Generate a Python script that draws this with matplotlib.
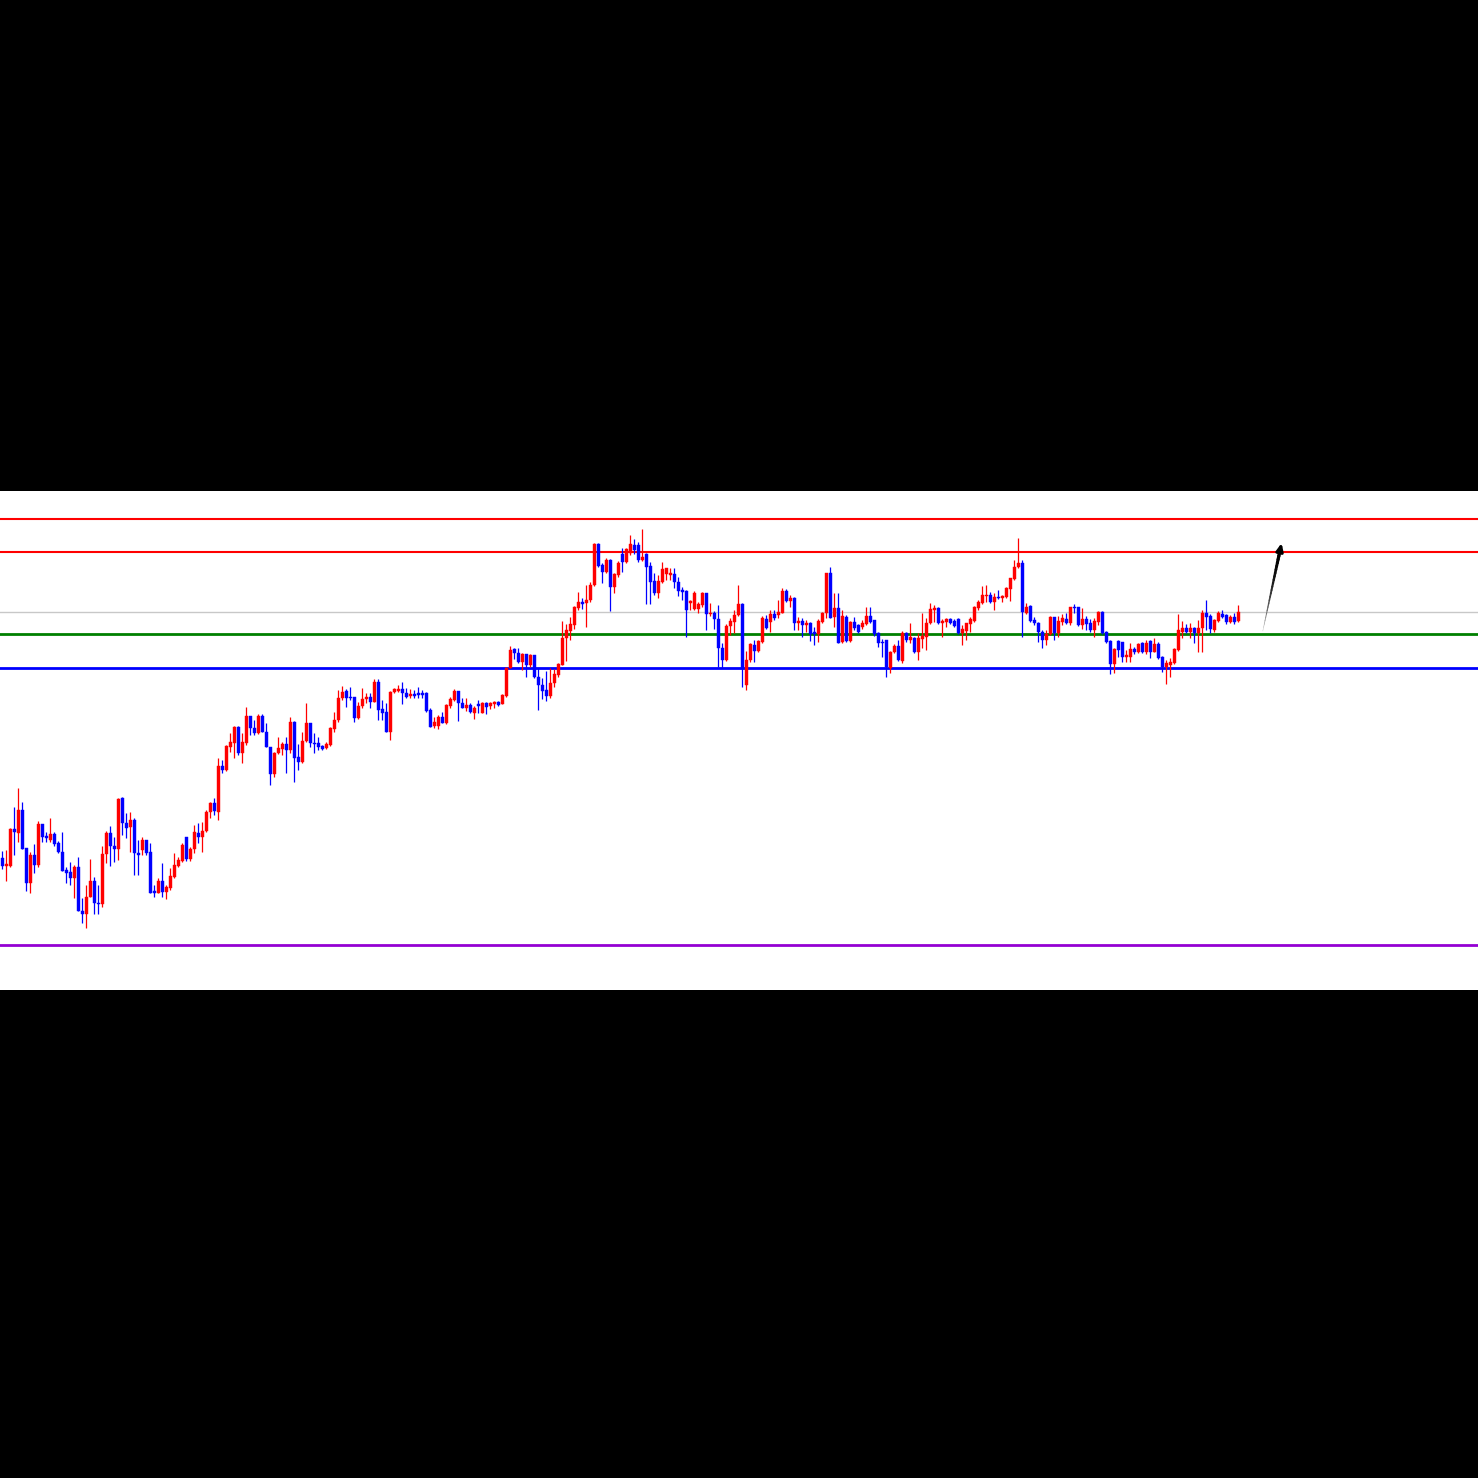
import matplotlib
matplotlib.use("Agg")
import matplotlib.pyplot as plt
from matplotlib.collections import LineCollection
import numpy as np

# OHLC values (price units)
ohlc = [
(132,139,121,124),(124,140,109,126),(124,162,123,161),(161,183,135,158),(157,202,148,180),
(180,188,141,141),(142,142,99,107),(107,138,97,135),(135,146,117,125),(125,169,123,166),
(166,166,148,153),(154,158,148,152),(150,172,148,156),(156,158,144,146),(147,149,137,138),
(138,158,119,119),(120,123,107,117),(118,128,105,112),(112,125,92,123),(123,133,79,79),
(79,92,67,76),(76,105,62,93),(93,131,93,109),(109,113,76,87),(87,105,76,86),
(86,144,83,136),(136,159,127,157),(157,164,124,144),(144,153,128,141),(141,192,130,191),
(192,193,155,167),(167,177,152,162),(163,178,138,170),(170,172,115,137),(137,150,115,135),
(140,153,135,150),(150,150,135,137),(138,147,97,97),(99,105,93,97),(97,112,97,109),
(109,127,93,98),(98,105,91,103),(102,122,100,114),(113,137,112,125),(124,133,123,130),
(129,147,128,145),(153,153,129,131),(131,143,129,141),(141,165,137,158),(157,167,147,153),
(153,168,138,159),(159,180,158,178),(178,188,172,187),(187,192,175,179),(178,232,170,224),
(224,230,217,220),(220,245,219,244),(243,257,238,248),(247,264,232,263),(263,264,235,237),
(237,257,227,248),(247,283,245,274),(274,274,255,262),(262,270,255,257),(257,276,256,274),
(274,276,258,258),(258,267,243,243),(243,243,205,216),(216,238,213,237),(237,253,236,242),
(241,248,235,246),(246,253,217,240),(240,273,237,268),(268,269,208,232),(233,246,220,228),
(228,258,227,249),(249,287,248,267),(267,267,243,247),(247,257,237,246),(247,253,240,243),
(244,245,240,241),(242,248,241,246),(245,263,244,262),(261,278,258,270),(270,300,268,292),
(292,304,290,298),(299,301,283,292),(293,303,290,292),(293,293,268,272),(272,288,271,284),
(284,302,282,291),(291,297,287,293),(293,297,282,288),(288,311,288,308),(308,311,270,280),
(281,290,270,277),(278,287,258,258),(258,299,250,298),(298,302,297,301),(299,305,298,301),
(301,308,286,297),(297,302,292,293),(294,301,292,296),(296,300,292,294),(297,303,292,295),
(297,300,292,295),(297,298,278,279),(280,282,263,263),(264,273,262,268),(264,275,261,273),
(273,278,267,267),(267,286,266,285),(284,293,282,291),(290,301,289,299),(299,299,269,287),
(287,292,282,282),(282,292,279,285),(285,287,277,278),(277,284,271,282),(286,290,277,284),
(277,288,277,287),(287,288,276,283),(284,288,281,287),(286,289,282,288),(288,289,284,285),
(286,296,286,295),(294,323,293,322),(322,344,322,340),(341,342,331,337),(337,342,327,328),
(328,337,320,336),(336,336,313,325),(325,336,323,335),(335,335,312,313),(313,322,280,305),
(305,312,291,299),(300,319,289,294),(294,322,292,307),(307,321,303,316),(315,327,313,326),
(325,369,325,352),(352,366,329,360),(359,373,350,366),(365,384,361,383),(382,398,380,388),
(388,392,381,386),(387,405,363,390),(390,408,388,405),(405,447,404,446),(446,447,423,424),
(425,427,407,418),(418,432,417,430),(430,431,379,403),(403,417,397,416),(415,429,413,427),
(436,442,418,428),(428,442,427,441),(437,455,435,446),(445,451,436,440),(445,448,428,430),
(430,461,429,433),(436,437,386,423),(424,428,386,408),(409,417,395,397),(397,415,392,409),
(408,428,407,421),(416,422,410,422),(415,422,410,417),(416,422,402,408),(408,413,394,399),
(400,403,390,398),(399,400,353,380),(387,390,380,389),(381,399,380,397),(381,388,377,386),
(385,398,383,397),(397,397,360,376),(376,387,374,377),(377,379,361,371),(371,385,323,342),
(342,347,322,330),(330,366,329,364),(364,372,355,369),(368,380,357,375),(375,405,374,386),
(386,387,303,321),(305,339,300,330),(330,347,328,346),(345,350,328,339),(339,350,338,349),
(348,374,347,372),(371,375,361,362),(368,380,358,376),(376,380,370,372),(375,390,372,378),
(377,402,377,399),(399,401,388,389),(389,395,383,392),(392,393,360,367),(367,373,360,369),
(369,372,353,365),(365,370,358,367),(367,368,349,356),(358,363,345,356),(356,371,348,369),
(368,378,367,377),(377,417,372,417),(417,423,372,372),(373,397,363,382),(382,397,347,347),
(348,380,347,374),(373,375,348,349),(349,369,348,368),(368,373,360,362),(365,366,357,358),
(363,370,361,367),(366,383,365,374),(374,383,367,368),(370,370,354,356),(357,358,343,347),
(348,351,333,347),(350,350,313,323),(322,339,317,338),(338,346,337,344),(344,350,329,330),
(329,359,327,357),(357,358,348,350),(350,367,347,353),(352,353,337,338),(338,357,330,352),
(351,377,342,354),(353,372,340,367),(367,387,366,381),(380,385,368,382),(382,383,366,367),
(367,371,353,369),(368,372,363,371),(371,372,366,367),(369,371,363,364),(371,372,356,357),
(357,365,345,361),(359,367,350,367),(366,373,358,371),(369,384,368,383),(382,390,380,388),
(387,404,386,395),(394,405,388,395),(395,398,387,388),(388,397,380,393),(393,400,391,392),
(392,395,388,394),(393,403,392,402),(401,412,389,412),(411,430,410,423),(423,452,422,427),
(427,430,353,378),(377,387,376,383),(384,385,368,369),(370,373,365,367),(367,368,348,358),
(358,360,342,350),(350,360,345,356),(356,374,355,373),(373,373,350,357),(357,374,353,369),
(368,376,365,372),(371,377,366,367),(367,383,365,383),(383,386,377,382),(383,383,364,365),
(365,382,361,371),(371,374,360,366),(367,371,358,360),(360,372,353,369),(368,379,365,378),
(378,379,356,357),(358,359,347,348),(349,350,316,326),(326,342,317,341),(349,350,333,340),
(348,348,328,333),(333,340,328,335),(333,347,328,341),(341,343,336,338),(338,347,337,346),
(347,348,337,338),(338,350,336,347),(349,350,332,338),(338,352,338,346),(346,348,331,332),
(333,334,318,323),(323,330,306,327),(325,332,313,328),(327,342,326,341),(340,376,339,360),
(358,369,352,362),(362,366,357,358),(358,367,352,362),(362,363,347,357),(357,370,338,362),
(362,380,338,377),(377,390,360,373),(374,376,357,361),(360,371,358,370),(369,379,368,377),
(376,380,372,373),(375,376,366,368),(368,375,367,373),(373,377,366,368),(369,385,368,378),
]
opens = [r[0] for r in ohlc]
highs = [r[1] for r in ohlc]
lows = [r[2] for r in ohlc]
closes = [r[3] for r in ohlc]

# horizontal levels
levels = [471, 438, 378, 356, 322, 45]
level_colors = ["#ff0000", "#ff0000", "#c8c8c8", "#008000", "#0000ff", "#9400d3"]
level_widths = [1.5, 1.5, 1.0, 2.0, 2.0, 2.0]

# arrow (start index, start price) -> (end index, end price)
arrow_start = (315.2, 359)
arrow_end = (319.9, 447)

fig = plt.figure(figsize=(14.78, 14.78), dpi=100, facecolor="black")
ax = fig.add_axes([0, 1 - 990 / 1478, 1, 499 / 1478])
ax.set_facecolor("white")
ax.set_xlim(-0.5, 369)
ax.set_ylim(0, 499)
ax.set_xticks([])
ax.set_yticks([])
for sp in ax.spines.values():
    sp.set_visible(False)

for lv, c, w in zip(levels, level_colors, level_widths):
    ax.axhline(lv, color=c, lw=w, zorder=1)

o = np.array(opens, float)
h = np.array(highs, float)
l = np.array(lows, float)
c = np.array(closes, float)
x = np.arange(len(o))
up = c >= o
cols = np.where(up, "#ff0000", "#0000ff")

ax.vlines(x, l, h, colors=cols, lw=0.9, zorder=2)
bottoms = np.minimum(o, c)
heights = np.maximum(np.abs(c - o), 1.0)
ax.bar(x, heights, bottom=bottoms, width=0.75, color=cols, edgecolor=cols, lw=0.3, zorder=3)

# tapered arrow: thin/light at the tail, thick/black at the head
n = 24
t = np.linspace(0, 0.93, n + 1)
ax_x = arrow_start[0] + t * (arrow_end[0] - arrow_start[0])
ax_y = arrow_start[1] + t * (arrow_end[1] - arrow_start[1])
segs = [[(ax_x[i], ax_y[i]), (ax_x[i + 1], ax_y[i + 1])] for i in range(n)]
frac = np.linspace(0, 1, n)
seg_cols = [(0.75 * (1 - f) ** 2, 0.75 * (1 - f) ** 2, 0.75 * (1 - f) ** 2) for f in frac]
seg_w = 0.3 + 2.2 * frac
ax.add_collection(LineCollection(segs, colors=seg_cols, linewidths=seg_w, capstyle="round", zorder=4))
ax.annotate("", xy=arrow_end, xytext=(ax_x[-2], ax_y[-2]),
            arrowprops=dict(arrowstyle="-|>,head_length=0.45,head_width=0.2",
                            color="black", lw=2.2, shrinkA=0, shrinkB=0),
            zorder=5)

fig.savefig("out.png", dpi=100, facecolor="black")
